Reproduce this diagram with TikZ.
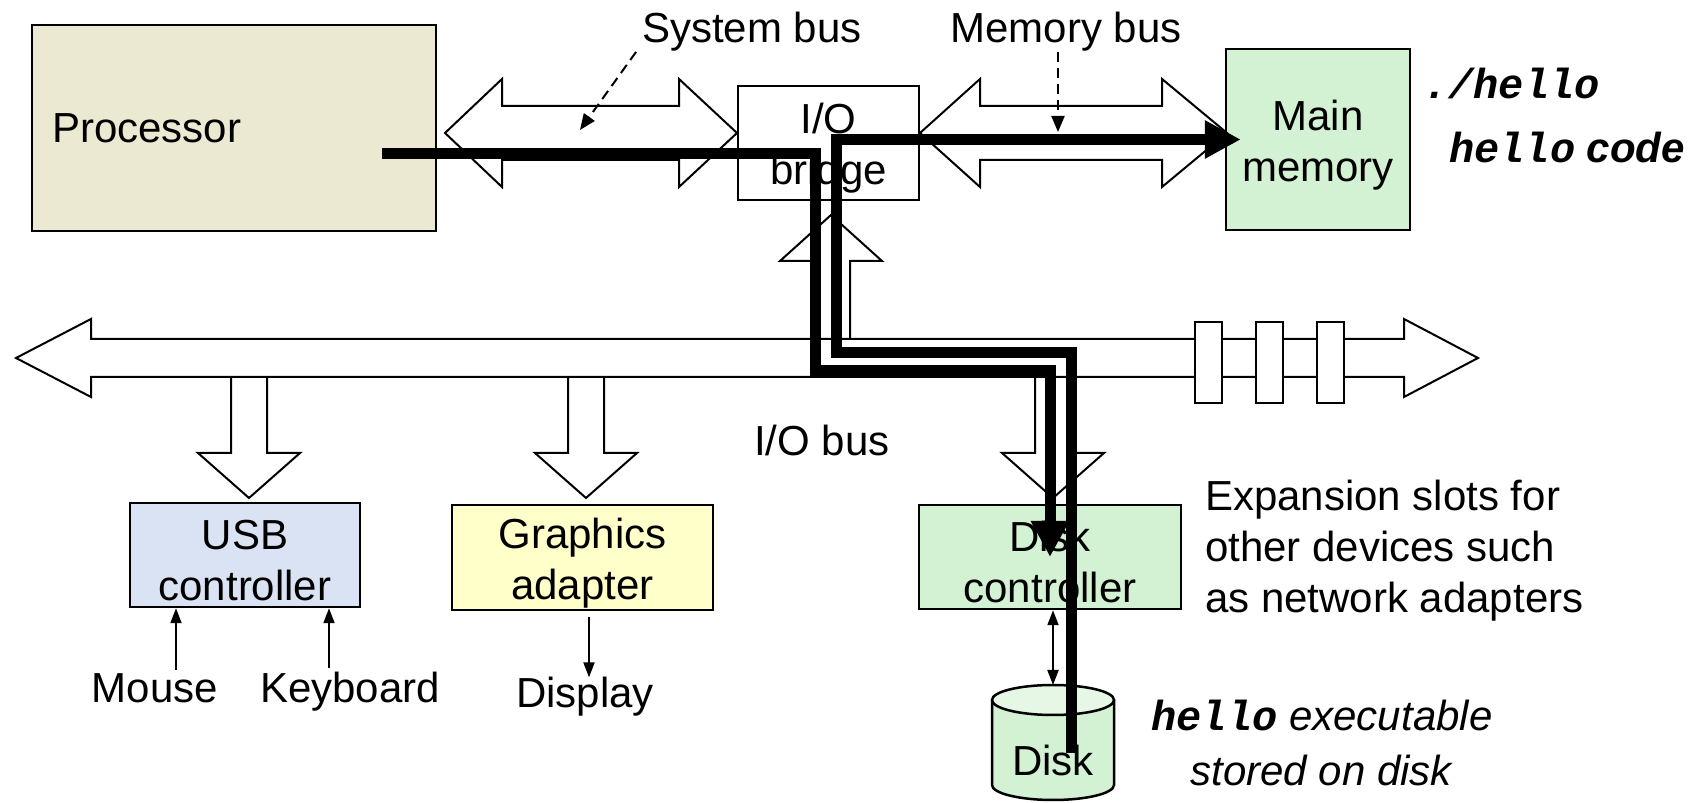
\documentclass[tikz,border=0pt]{standalone}
\usepackage{fontspec}
\setmainfont{Liberation Sans}
\setmonofont{Liberation Mono}
\usetikzlibrary{arrows.meta}

\definecolor{procfill}{RGB}{235,233,209}
\definecolor{memfill}{RGB}{211,241,211}
\definecolor{diskcap}{RGB}{230,247,230}
\definecolor{usbfill}{RGB}{218,227,243}
\definecolor{gfxfill}{RGB}{255,255,201}

\newcommand{\cprog}[1]{{\ttfamily\bfseries\itshape #1}}
\newcommand{\upline}{\rule{0pt}{41pt}}

\tikzset{
	unit/.style={draw,line width=2.5pt,align=center},
	bus/.style={draw,fill=white,line width=2pt},
	datapath/.style={line width=11pt,-{Triangle[length=36pt,width=36pt]}},
	wire/.style={line width=2pt,-{Triangle[length=15pt,width=11pt]}},
	twoway/.style={line width=2pt,{Triangle[length=15pt,width=11pt]}-{Triangle[length=15pt,width=11pt]}},
	pointer/.style={line width=2pt,dash pattern=on 10pt off 6pt,-{Triangle[length=16pt,width=13pt]}}
}

\begin{document}
\begin{tikzpicture}[x=1pt,y=1pt,every node/.style={font=\fontsize{42}{51}\selectfont,inner sep=0pt}]
	\useasboundingbox (0,0) rectangle (1698,803);

	\node[unit,fill=procfill,minimum width=404pt,minimum height=206pt,text width=364pt,align=left] (proc) at (234,675) {Processor};
	\node[unit,fill=white,minimum width=181pt,minimum height=114pt] (bridge) at (828.5,660) {\upline I/O\\bridge};
	\node[unit,fill=memfill,minimum width=184pt,minimum height=181pt] (mem) at (1318,663.5) {\upline Main\\memory};
	\node[unit,fill=usbfill,minimum width=230pt,minimum height=104pt] (usb) at (245,248) {\upline USB\\controller};
	\node[unit,fill=gfxfill,minimum width=261pt,minimum height=105pt] (gfx) at (582.5,245.5) {\upline Graphics\\adapter};
	\node[unit,fill=memfill,minimum width=262pt,minimum height=104pt] (diskctl) at (1050,246) {\upline Disk\\controller};

	\draw[bus] (445,670) -- (502,724) -- (502,697) -- (679,697) -- (679,724) -- (737,670) -- (679,616) -- (679,643) -- (502,643) -- (502,616) -- cycle;
	\draw[bus] (920,670) -- (980,724) -- (980,697) -- (1162,697) -- (1162,724) -- (1227,670) -- (1162,616) -- (1162,643) -- (980,643) -- (980,616) -- cycle;

	\draw[bus] (812,464) -- (812,542) -- (780,542) -- (831,588) -- (882,542) -- (850,542) -- (850,464);
	\foreach \cx in {249,586,1053}
		\draw[bus] (\cx-18,426) -- (\cx-18,350) -- (\cx-51,350) -- (\cx,305) -- (\cx+51,350) -- (\cx+18,350) -- (\cx+18,426);
	\draw[bus] (16,445) -- (91,484) -- (91,464) -- (1404,464) -- (1404,484) -- (1478,445) -- (1404,406) -- (1404,426) -- (91,426) -- (91,406) -- cycle;
	\foreach \sx in {1195,1256,1317}
		\draw[bus] (\sx,400) rectangle ++(27,81);

	\fill[memfill] (992,103) -- (992,18) arc[start angle=180,end angle=360,x radius=61,y radius=15] -- (1114,103) -- cycle;
	\draw[line width=2.5pt] (992,103) -- (992,18) arc[start angle=180,end angle=360,x radius=61,y radius=15] -- (1114,103);
	\draw[line width=2.5pt,fill=diskcap] (1053,103) ellipse[x radius=61,y radius=15];
	\coordinate (disktop) at (1053,118);
	\node (disk) at (1053,43) {Disk};

	\node[anchor=base] (sysbus) at (752,760) {System bus};
	\node[anchor=base] (membus) at (1066,760) {Memory bus};
	\node[anchor=base] (iobus) at (822,347) {I/O bus};
	\node[anchor=base] (mouse) at (155,100) {Mouse};
	\node[anchor=base] (kbd) at (350,100) {Keyboard};
	\node[anchor=base] (display) at (585,95) {Display};
	\node[anchor=west,align=left] (slotnote) at (1205,252) {Expansion slots for\\other devices such\\as network adapters};
	\node[anchor=west] (runcmd) at (1423,720) {\cprog{./hello}};
	\node[anchor=west] (memcode) at (1449,655) {\cprog{hello} \textbf{\textit{code}}};
	\node[align=center,font=\fontsize{42}{55}\selectfont] (diskfile) at (1322,60) {\cprog{hello} \textit{executable}\\\textit{stored on disk}};

	\coordinate (cpuout) at (382,649);
	\coordinate (diskout) at (1071,50);
	\draw[datapath] (cpuout) -| (815,432) -| (diskctl.center);
	\draw[datapath] (diskout) |- (836,450) |- ([xshift=16pt]mem.west);

	\coordinate (sysbusend) at (580,673);
	\coordinate (membusend) at (1058,671);
	\draw[pointer] ([xshift=-6pt]sysbus.south west) -- (sysbusend);
	\draw[pointer] ([xshift=-8pt]membus.south) -- (membusend);

	\draw[wire] ([xshift=21pt,yshift=4pt]mouse.north) -- ([xshift=21pt]mouse.north |- usb.south);
	\draw[wire] ([xshift=-21pt,yshift=4pt]kbd.north) -- ([xshift=-21pt]kbd.north |- usb.south);
	\draw[wire] ([xshift=4pt,yshift=-6pt]display.north |- gfx.south) -- ([xshift=4pt]display.north);
	\draw[twoway] (disktop |- diskctl.south) -- (disktop);
\end{tikzpicture}
\end{document}
